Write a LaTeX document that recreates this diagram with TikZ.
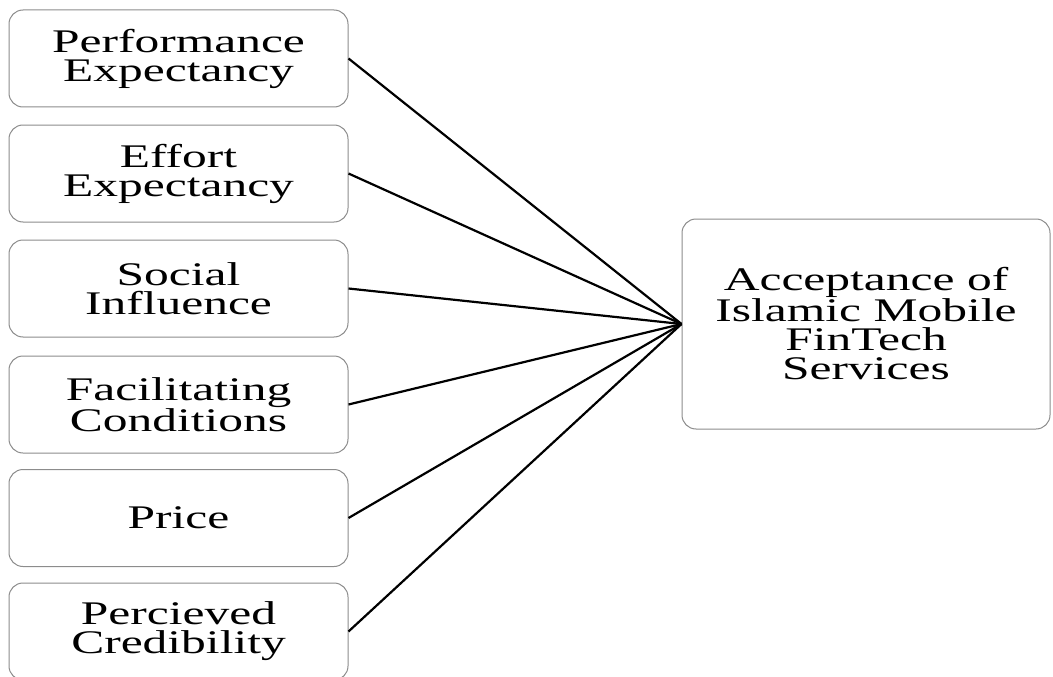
\documentclass[tikz,border=0pt]{standalone}
\usepackage{fontspec}
\setmainfont{Liberation Serif}[FakeStretch=1.5]

\begin{document}
\begin{tikzpicture}[
    x=1pt, y=1pt,
    factor/.style={rectangle, rounded corners=14pt, draw=black!45, line width=1pt,
        minimum width=339pt, minimum height=97pt, align=center,
        font=\fontsize{33}{29}\selectfont},
    outcome/.style={factor, minimum width=368pt, minimum height=210pt},
    link/.style={line width=2.2pt}
    ]
    \useasboundingbox (0, 0) rectangle (1053, -677);

    %Nodes
    \node[factor] at (178.5, -58.5) (pe) {Performance\\Expectancy};
    \node[factor] at (178.5, -173.5) (ee) {Effort\\Expectancy};
    \node[factor] at (178.5, -288.5) (si) {Social\\Influence};
    \node[factor] at (178.5, -404.5) (fc) {Facilitating\\Conditions};
    \node[factor] at (178.5, -518) (pr) {Price};
    \node[factor] at (178.5, -631.5) (pc) {Percieved\\Credibility};

    \node[outcome] at (866, -324) (ac) {Acceptance of\\Islamic Mobile\\FinTech\\Services};

    %Lines
    \draw[link] (pe.east) -- (ac.west);
    \draw[link] (ee.east) -- (ac.west);
    \draw[link] (si.east) -- (ac.west);
    \draw[link] (fc.east) -- (ac.west);
    \draw[link] (pr.east) -- (ac.west);
    \draw[link] (pc.east) -- (ac.west);
\end{tikzpicture}
\end{document}
